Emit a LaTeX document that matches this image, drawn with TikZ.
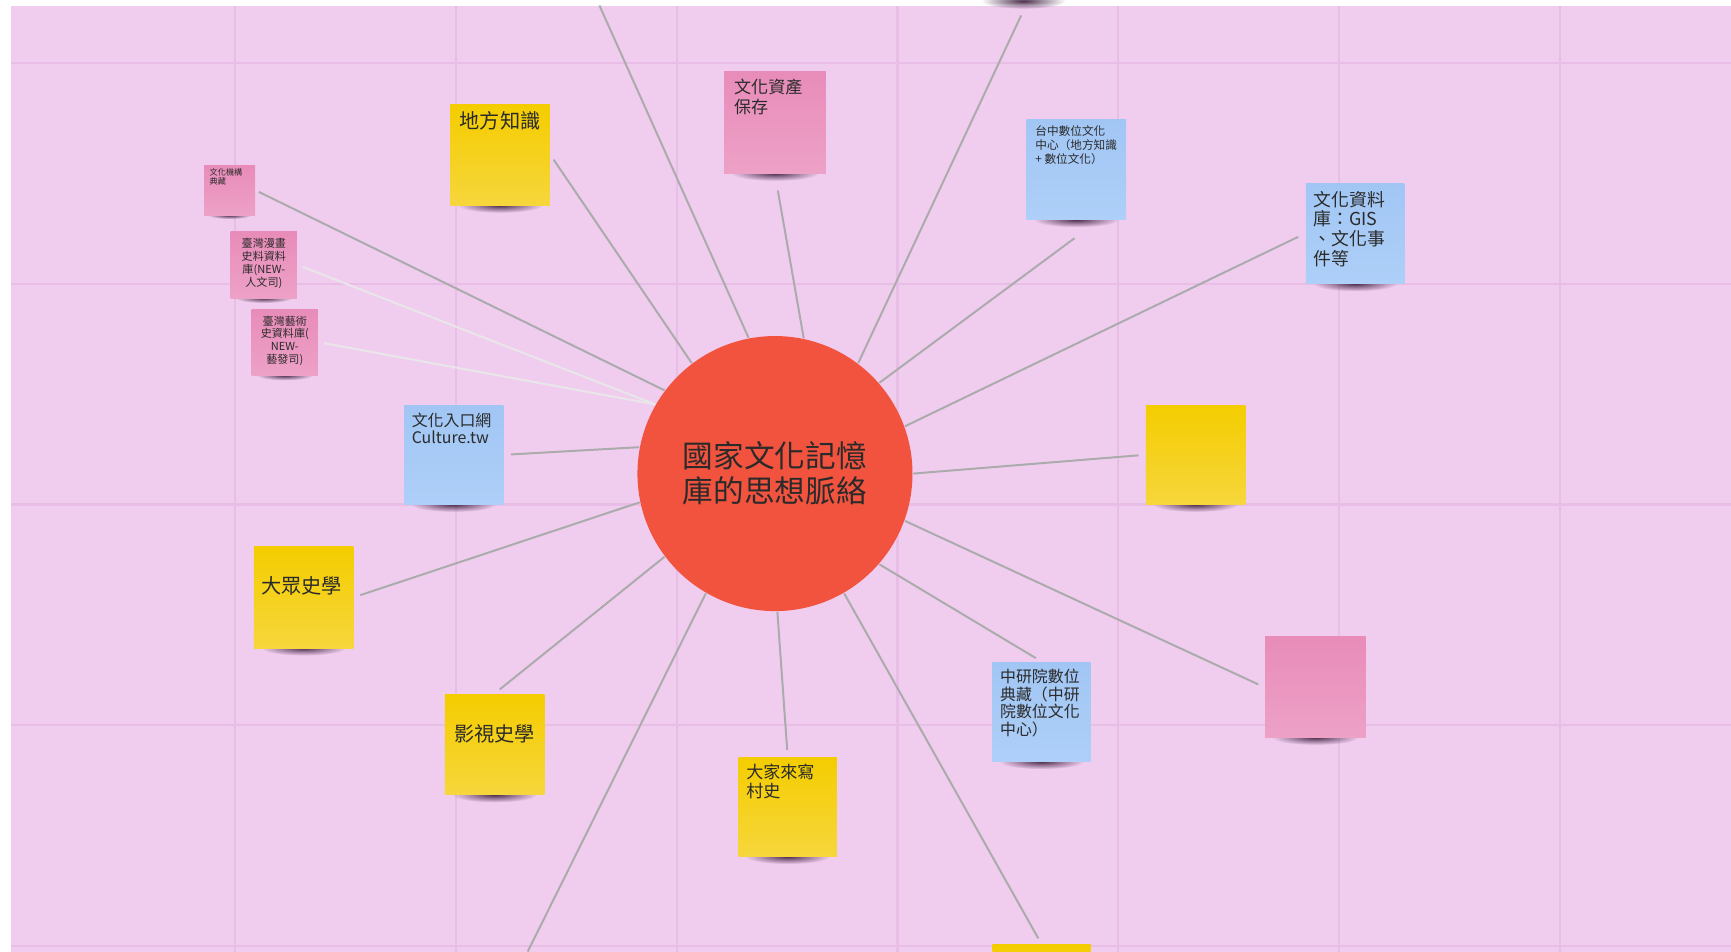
\documentclass[tikz,border=0pt]{standalone}
\usepackage{fontspec}
\setmainfont{Noto Sans CJK TC}
\usepackage{tikz}
\usetikzlibrary{fadings}
\definecolor{canvas}{HTML}{F0CDEF}
\definecolor{gridpink}{HTML}{E8BEE6}
\definecolor{hubred}{HTML}{F2533F}
\definecolor{yTop}{HTML}{F4CD00}
\definecolor{yBot}{HTML}{F6D63C}
\definecolor{pTop}{HTML}{E88CB9}
\definecolor{pBot}{HTML}{EDA1C7}
\definecolor{bTop}{HTML}{A2C6F4}
\definecolor{bBot}{HTML}{ADCFF8}
\definecolor{linkgray}{HTML}{ABABAB}
\definecolor{linkpale}{HTML}{E9E6E9}
\definecolor{ink}{HTML}{2A2A2A}
\definecolor{shadowcol}{HTML}{4E2F4E}
\tikzfading[name=softshadow, inner color=transparent!0, outer color=transparent!100]
\newcommand{\fsz}[2]{\fontsize{#1pt}{#2pt}\selectfont}
\tikzset{
  paper/.style={rectangle, inner sep=0pt, top color=#1Top, bottom color=#1Bot},
  notetext/.style={inner sep=0pt, text=ink, align=left, anchor=north west},
  link/.style={draw=linkgray, line width=0.018cm},
  palelink/.style={link, draw=linkpale},
  gridline/.style={draw=gridpink, line width=0.02cm},
}
\begin{document}
\begin{tikzpicture}[x=0.01cm, y=-0.01cm]
\useasboundingbox (0,0) rectangle (1568,862);
\fill[white] (0,0) rectangle (1568,862);
\fill[canvas] (10,5) rectangle (1568,862);
\foreach \gx in {213,413,...,1413}
  \draw[gridline] (\gx,5) -- (\gx,862);
\foreach \gy in {57,257,...,857}
  \draw[gridline] (10,\gy) -- (1568,\gy);
\fill[shadowcol, path fading=softshadow] (927,1) ellipse [x radius=0.38cm, y radius=0.07cm];
\foreach \n/\x/\y/\w/\h/\col in {dfzs/453/140.5/0.90/0.91/y, whzc/702/111/0.92/0.92/p,
    tzsw/975/153.5/0.90/0.91/b, whzlk/1227.5/211.5/0.89/0.91/b, ylwe/1083/412/0.90/0.90/y,
    pnke/1191.5/622.5/0.91/0.91/p, zyy/943.5/645/0.89/0.90/b, btmy/943.5/901/0.89/0.90/y,
    djlx/713.5/731/0.89/0.90/y, ysxs/448/674.5/0.90/0.91/y, dzsx/275/541/0.90/0.92/y,
    whrk/411/412/0.90/0.90/b, whjg/208/172.5/0.46/0.45/p, twmh/239/240/0.60/0.60/p,
    twys/258/310/0.60/0.60/p}{
  \fill[shadowcol, path fading=softshadow] (\x,{\y+\h*50}) ellipse [x radius={\w*0.43cm}, y radius={\h*0.075cm}];
  \node[paper=\col, minimum width=\w cm, minimum height=\h cm] (\n) at (\x,\y) {};
}
\node[circle, fill=hubred, minimum size=2.49cm, inner sep=0pt, text=ink, align=center, font=\fsz{7.9}{9.1}] (hub) at (702,429) {國家文化記憶\\庫的思想脈絡};
\node[notetext, anchor=north, font=\fsz{5.2}{6}] (dfzs-t) at ([yshift=-0.06cm]dfzs.north) {地方知識};
\node[notetext, font=\fsz{4.4}{5}] (whzc-t) at ([shift={(0.09cm,-0.07cm)}]whzc.north west) {文化資產\\保存};
\node[notetext, font=\fsz{3.0}{3.55}] (tzsw-t) at ([shift={(0.08cm,-0.06cm)}]tzsw.north west) {台中數位文化\\中心（地方知識\\+ 數位文化）};
\node[notetext, font=\fsz{4.6}{5.1}] (whzlk-t) at ([shift={(0.07cm,-0.07cm)}]whzlk.north west) {文化資料\\庫：GIS\\、文化事\\件等};
\node[notetext, font=\fsz{4.1}{4.55}] (zyy-t) at ([shift={(0.07cm,-0.06cm)}]zyy.north west) {中研院數位\\典藏（中研\\院數位文化\\中心）};
\node[notetext, font=\fsz{4.4}{5}] (djlx-t) at ([shift={(0.07cm,-0.06cm)}]djlx.north west) {大家來寫\\村史};
\node[notetext, anchor=north, font=\fsz{5.2}{6}] (ysxs-t) at ([yshift=-0.27cm]ysxs.north) {影視史學};
\node[notetext, anchor=north, font=\fsz{5.2}{6}] (dzsx-t) at ([shift={(-0.02cm,-0.27cm)}]dzsx.north) {大眾史學};
\node[notetext, font=\fsz{4.1}{4.55}] (whrk-t) at ([shift={(0.07cm,-0.07cm)}]whrk.north west) {文化入口網\\Culture.tw};
\node[notetext, font=\fsz{2.1}{2.3}] (whjg-t) at ([shift={(0.05cm,-0.03cm)}]whjg.north west) {文化機構\\典藏};
\node[notetext, anchor=north, align=center, font=\fsz{2.85}{3.3}] (twmh-t) at ([yshift=-0.06cm]twmh.north) {臺灣漫畫\\史料資料\\庫(NEW-\\人文司)};
\node[notetext, anchor=north, align=center, font=\fsz{2.85}{3.3}] (twys-t) at ([yshift=-0.06cm]twys.north) {臺灣藝術\\史資料庫(\\NEW-\\藝發司)};
\coordinate (offTL) at (543,5);
\coordinate (offTR) at (925,14);
\coordinate (offBL) at (478,862);
\draw[link, shorten <=0.05cm] (dfzs.east) -- (hub.127);
\draw[link, shorten <=0.15cm] (whzc.south) -- (hub.78);
\draw[link] (offTL) -- (hub.101);
\draw[link] (offTR) -- (hub.53);
\draw[link, shorten <=0.27cm] ([xshift=0.2cm]tzsw.south) -- (hub.41);
\draw[link, shorten <=0.07cm] (whzlk.west) -- (hub.20);
\draw[link, shorten <=0.06cm] (ylwe.west) -- (hub.0.5);
\draw[link, shorten <=0.06cm] (pnke.west) -- (hub.-20);
\draw[link, shorten <=0.06cm] (zyy.north) -- (hub.-41.5);
\draw[link, shorten <=0.06cm] (btmy.north) -- (hub.-60);
\draw[link, shorten <=0.06cm] (djlx.north) -- (hub.-89);
\draw[link] (offBL) -- (hub.-120);
\draw[link, shorten <=0.06cm] (ysxs.north) -- (hub.-143);
\draw[link, shorten <=0.06cm] (dzsx.east) -- (hub.-168);
\draw[link, shorten <=0.06cm] (whrk.east) -- (hub.169);
\draw[link, shorten <=0.03cm] (whjg.east) -- (hub.143);
\draw[palelink, shorten <=0.05cm] (twmh.east) -- (hub.150);
\draw[palelink, shorten <=0.05cm] (twys.east) -- (hub.150);
\end{tikzpicture}
\end{document}
